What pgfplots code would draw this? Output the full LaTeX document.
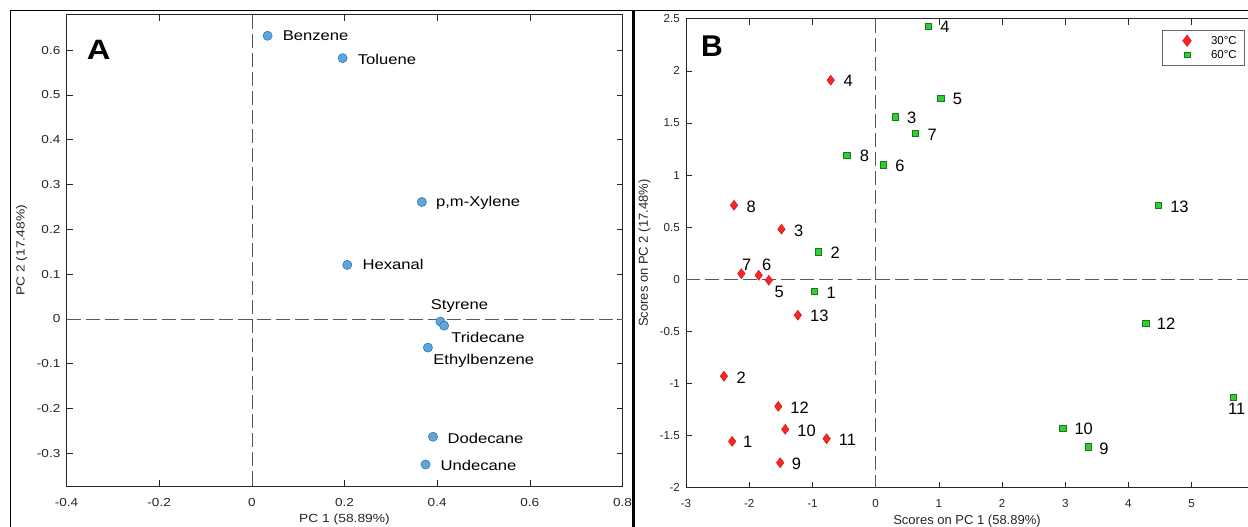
\documentclass[border=0pt]{standalone}
\usepackage{fontspec}
\setmainfont{Liberation Sans}
\newfontfamily\afont[FakeStretch=1.17]{Liberation Sans}
\usepackage{pgfplots}
\usepackage{pgfplotstable}
\pgfplotsset{compat=1.18}

\definecolor{axgray}{RGB}{38,38,38}
\definecolor{dashgray}{RGB}{90,90,90}
\definecolor{ptblue}{RGB}{93,165,218}
\definecolor{ptblueedge}{RGB}{40,110,175}
\definecolor{ptred}{RGB}{255,35,35}
\definecolor{ptrededge}{RGB}{190,20,20}
\definecolor{ptgreen}{RGB}{50,205,50}
\definecolor{ptgreenedge}{RGB}{25,120,25}

% Panel A: loadings
\pgfplotstableread{
x y lbl dx dy
0.034 0.632 Benzene 15.0 0
0.196 0.582 Toluene 15.0 -1.7
0.367 0.261 p,m-Xylene 14.0 -1
0.206 0.1205 Hexanal 15.0 0
0.407 -0.006 Styrene -9.8 16
0.415 -0.015 Tridecane 7.0 -11.6
0.380 -0.064 Ethylbenzene 5.2 -13.3
0.391 -0.263 Dodecane 14.3 -1.3
0.375 -0.325 Undecane 14.8 -1
}\loadingsA

% Panel B: scores at 30 C
\pgfplotstableread{
x y lbl dx dy
-2.27 -1.556 1 10.8 -0.7
-2.40 -0.93 2 12.4 -1.3
-1.49 0.48 3 12.4 -1.3
-0.71 1.91 4 12.8 -1
-1.69 -0.01 5 5.7 -11.7
-1.85 0.038 6 3.3 10
-2.125 0.054 7 0.6 9
-2.24 0.71 8 12.4 -1.7
-1.51 -1.76 9 11.6 -1
-1.43 -1.44 10 12.0 -1
-0.775 -1.53 11 12.0 -0.7
-1.54 -1.22 12 12.0 -1
-1.23 -0.345 13 12.0 -1
}\scoresThirty

% Panel B: scores at 60 C
\pgfplotstableread{
x y lbl dx dy
-0.97 -0.115 1 12.0 -1.3
-0.906 0.263 2 12.0 -1
0.31 1.56 3 11.6 -0.7
0.83 2.43 4 12.0 -1
1.03 1.74 5 12.0 -1
0.12 1.10 6 12.0 -1
0.63 1.40 7 12.0 -1.3
-0.456 1.19 8 12.8 -1
3.36 -1.607 9 11.3 -1.7
2.96 -1.43 10 11.6 -1
5.66 -1.134 11 -5.5 -11.7
4.27 -0.42 12 11.2 -1
4.475 0.71 13 11.6 -1.3
}\scoresSixty

\pgfplotsset{
  common/.style={
    scale only axis,
    axis line style={axgray, line width=0.6pt},
    tick style={axgray, line width=0.6pt},
    major tick length=6pt,
    tick align=inside,
    /pgf/number format/assume math mode=true,
    ticklabel style={text=axgray},
    label style={text=axgray},
    xticklabel style={yshift=-8.5pt},
    yticklabel style={xshift=-2.6pt},
    clip=false,
  },
  labelled/.style={
    nodes near coords,
    point meta=explicit symbolic,
    visualization depends on={\thisrow{dx} \as \labdx},
    visualization depends on={\thisrow{dy} \as \labdy},
    every node near coord/.append style={anchor=west, inner sep=0pt,
      xshift=\labdx pt, yshift=\labdy pt, text=black},
  },
  zeroline/.style={dashgray, line width=0.6pt, dash pattern=on 14pt off 5pt, forget plot},
  redmarks/.style={only marks, mark=diamond*, mark size=5pt,
    mark options={fill=ptred, draw=ptrededge, line width=0.4pt}},
  greenmarks/.style={only marks, mark=square*, mark size=3.2pt,
    mark options={fill=ptgreen, draw=ptgreenedge, line width=0.4pt}},
}

\begin{document}
\begin{tikzpicture}
% ---------------- Panel A ----------------
\begin{axis}[common,
  at={(66.5pt,41pt)}, anchor=south west,
  width=556pt, height=471.3pt,
  xmin=-0.4, xmax=0.8, ymin=-0.373, ymax=0.679,
  xtick={-0.4,-0.2,0,0.2,0.4,0.6,0.8},
  ytick={-0.3,-0.2,-0.1,0,0.1,0.2,0.3,0.4,0.5,0.6},
  /pgf/number format/fixed,
  ticklabel style={font=\afont\fontsize{11.6}{13}\selectfont},
  label style={font=\afont\fontsize{11.8}{14}\selectfont},
  xlabel={PC 1 (58.89\%)},
  ylabel={PC 2 (17.48\%)},
  x label style={at={(axis description cs:0.5,0)}, anchor=center, yshift=-33pt},
  y label style={at={([xshift=-45pt]axis description cs:0,0.5)}, anchor=center},
]
\addplot[zeroline] coordinates {(-0.4,0) (0.8,0)};
\addplot[zeroline] coordinates {(0,0.679) (0,-0.373)};
\addplot[only marks, mark=*, mark size=4.6pt,
  mark options={fill=ptblue, draw=ptblueedge, line width=0.5pt},
  labelled,
  every node near coord/.append style={font=\afont\fontsize{14.2}{16}\selectfont}]
  table[x=x, y=y, meta=lbl] {\loadingsA};
\end{axis}

% ---------------- Panel B ----------------
\begin{axis}[common,
  at={(686pt,39.3pt)}, anchor=south west,
  width=562pt, height=469pt,
  xmin=-3, xmax=5.892, ymin=-2, ymax=2.5,
  axis x line*=box, axis y line*=left,
  xtick={-3,-2,-1,0,1,2,3,4,5},
  ytick={-2,-1.5,-1,-0.5,0,0.5,1,1.5,2,2.5},
  ticklabel style={font=\fontsize{11.6}{13}\selectfont},
  label style={font=\fontsize{13}{15}\selectfont},
  xlabel={Scores on PC 1 (58.89\%)},
  ylabel={Scores on PC 2 (17.48\%)},
  x label style={at={(axis description cs:0.5,0)}, anchor=center, yshift=-33pt},
  y label style={at={([xshift=-41.4pt]axis description cs:0,0.5)}, anchor=center},
  legend style={at={(1,1)}, anchor=north east, xshift=-4pt, yshift=-11.3pt,
    draw=axgray!70, line width=0.5pt, fill=white,
    font=\fontsize{11.5}{13}\selectfont, text=black,
    inner xsep=0pt, inner ysep=3.5pt, row sep=0pt,
    nodes={inner sep=0pt},
    /tikz/every odd column/.append style={column sep=16pt}},
  legend cell align=left,
  legend image code/.code={\path[draw=none, fill=none] (-25pt,-7pt) rectangle (8pt,7pt);
    \draw[#1] plot coordinates {(0pt,0pt)};},
]
\addplot[zeroline] coordinates {(-3,0) (5.892,0)};
\addplot[zeroline] coordinates {(0,2.5) (0,-2)};
\addplot[redmarks, forget plot, labelled,
  every node near coord/.append style={font=\fontsize{16.5}{18}\selectfont}]
  table[x=x, y=y, meta=lbl] {\scoresThirty};
\addplot[greenmarks, forget plot, labelled,
  every node near coord/.append style={font=\fontsize{16.5}{18}\selectfont}]
  table[x=x, y=y, meta=lbl] {\scoresSixty};
\addlegendimage{redmarks, mark size=5.8pt}
\addlegendentry{30°C\hspace*{7pt}}
\addlegendimage{greenmarks, mark size=2.8pt}
\addlegendentry{60°C\hspace*{7pt}}
\end{axis}

% panel letters
\node[font=\afont\bfseries\fontsize{28}{30}\selectfont, inner sep=0pt] at (98.6pt,477pt) {A};
\node[font=\bfseries\fontsize{30}{32}\selectfont, inner sep=0pt] at (712pt,481.3pt) {B};

% outer frames
\draw[black, line width=1.2pt] (10.5pt,-5pt) -- (10.5pt,516.6pt) -- (1260pt,516.6pt);
\draw[black, line width=2.7pt] (633.6pt,-5pt) -- (633.6pt,516.6pt);

\pgfresetboundingbox
\useasboundingbox (0pt,0pt) rectangle (1248pt,527pt);
\end{tikzpicture}
\end{document}
